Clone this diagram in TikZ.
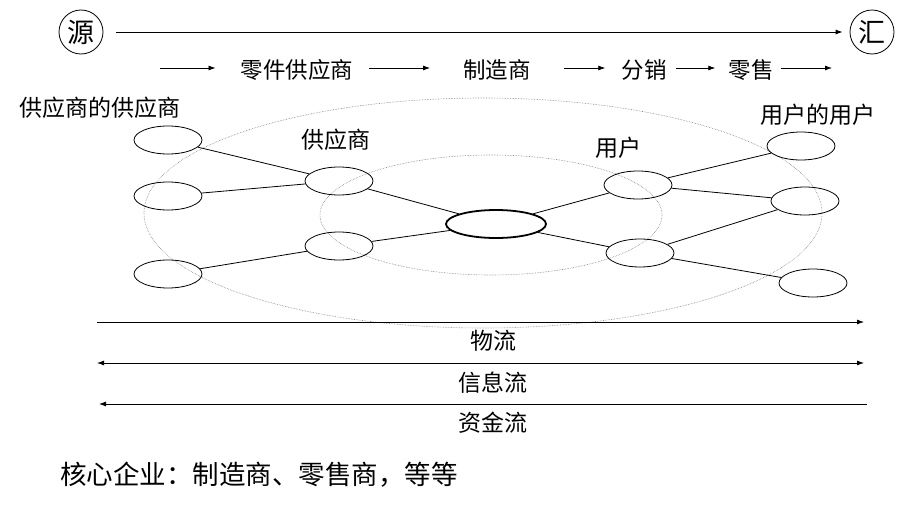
\documentclass[tikz,border=0pt]{standalone}
\usepackage{fontspec}
\setmainfont{Noto Sans CJK SC}
\usepackage{tikz}
\usetikzlibrary{shapes.geometric, arrows.meta, positioning}

\tikzset{
  member/.style={draw, ellipse, line width=0.8pt, minimum width=68pt, minimum height=28pt, inner sep=0pt},
  core/.style={member, line width=1.8pt, minimum width=100pt},
  endpoint/.style={draw, circle, line width=0.8pt, minimum size=44pt, inner sep=0pt, font=\fontsize{27}{29}\selectfont},
  label/.style={font=\fontsize{23}{26}\selectfont, inner sep=0pt},
  stage/.style={font=\fontsize{22.5}{26}\selectfont, inner sep=0pt},
  link/.style={line width=0.8pt},
  flow/.style={line width=0.8pt},
  ring/.style={gray, densely dotted, line width=0.6pt},
}

\begin{document}
\begin{tikzpicture}[x=1pt, y=-1pt, >={Latex[length=7pt,width=5pt]}]
    \useasboundingbox (0,0) rectangle (907,506);

    % source and sink
    \node[endpoint] (src) at (81,32) {源};
    \node[endpoint] (sink) at (872,32) {汇};
    \draw[->, flow, shorten <=13pt, shorten >=7pt] (src) -- (sink);

    % chain stages
    \coordinate (a0) at (160,68);
    \node[stage] (parts) at (297,70) {零件供应商};
    \node[stage] (maker) at (497,70) {制造商};
    \node[stage] (distrib) at (644,70) {分销};
    \node[stage] (retail) at (751,70) {零售};
    \coordinate (a5) at (832,68);
    \draw[->, flow] (a0) -- ([xshift=-25pt]parts.west |- a0);
    \draw[->, flow] ([xshift=16pt]parts.east |- a0) -- ([xshift=-33pt]maker.west |- a0);
    \draw[->, flow] ([xshift=33pt]maker.east |- a0) -- ([xshift=-16pt]distrib.west |- a0);
    \draw[->, flow] ([xshift=9pt]distrib.east |- a0) -- ([xshift=-13pt]retail.west |- a0);
    \draw[->, flow] ([xshift=7pt]retail.east |- a0) -- (a5);

    % network rings
    \draw[ring] (483,213) ellipse (339 and 115);
    \draw[ring] (491,215) ellipse (171 and 60);

    % members
    \node[member] (ss1) at (168,140) {};
    \node[member] (ss2) at (168,196) {};
    \node[member] (ss3) at (168,274) {};
    \node[member] (s1) at (339,181) {};
    \node[member] (s2) at (339,246) {};
    \node[core] (firm) at (496,224) {};
    \node[member] (c1) at (638,185) {};
    \node[member] (c2) at (640,253) {};
    \node[member] (cc1) at (801,146) {};
    \node[member] (cc2) at (805,201) {};
    \node[member] (cc3) at (813,283) {};

    \node[label] (lss) at (100,108) {供应商的供应商};
    \node[label] (ls) at (336,140) {供应商};
    \node[label] (lc) at (618,148) {用户};
    \node[label] (lcc) at (818,115) {用户的用户};

    \draw[link] (ss1) -- (s1);
    \draw[link] (ss2) -- (s1);
    \draw[link] (ss3) -- (s2);
    \draw[link] (s1) -- (firm);
    \draw[link] (s2) -- (firm);
    \draw[link] (firm) -- (c1);
    \draw[link] (firm) -- (c2);
    \draw[link] (c1) -- (cc1);
    \draw[link] (c1) -- (cc2);
    \draw[link] (c2) -- (cc2);
    \draw[link] (c2) -- (cc3);

    % flows
    \coordinate (m0) at (97,322);  \coordinate (m1) at (864,322);
    \coordinate (i0) at (97,363);  \coordinate (i1) at (864,363);
    \coordinate (f0) at (99,404);  \coordinate (f1) at (867,404);
    \draw[->, flow] (m0) -- (m1);
    \draw[<->, flow] (i0) -- (i1);
    \draw[<-, flow] (f0) -- (f1);
    \node[label] (lm) at (493,341) {物流};
    \node[label] (li) at (493,383) {信息流};
    \node[label] (lf) at (493,423) {资金流};

    \node[label, anchor=west, font=\fontsize{26.5}{30}\selectfont] (note) at (60,475) {核心企业：制造商、零售商，等等};
\end{tikzpicture}
\end{document}
